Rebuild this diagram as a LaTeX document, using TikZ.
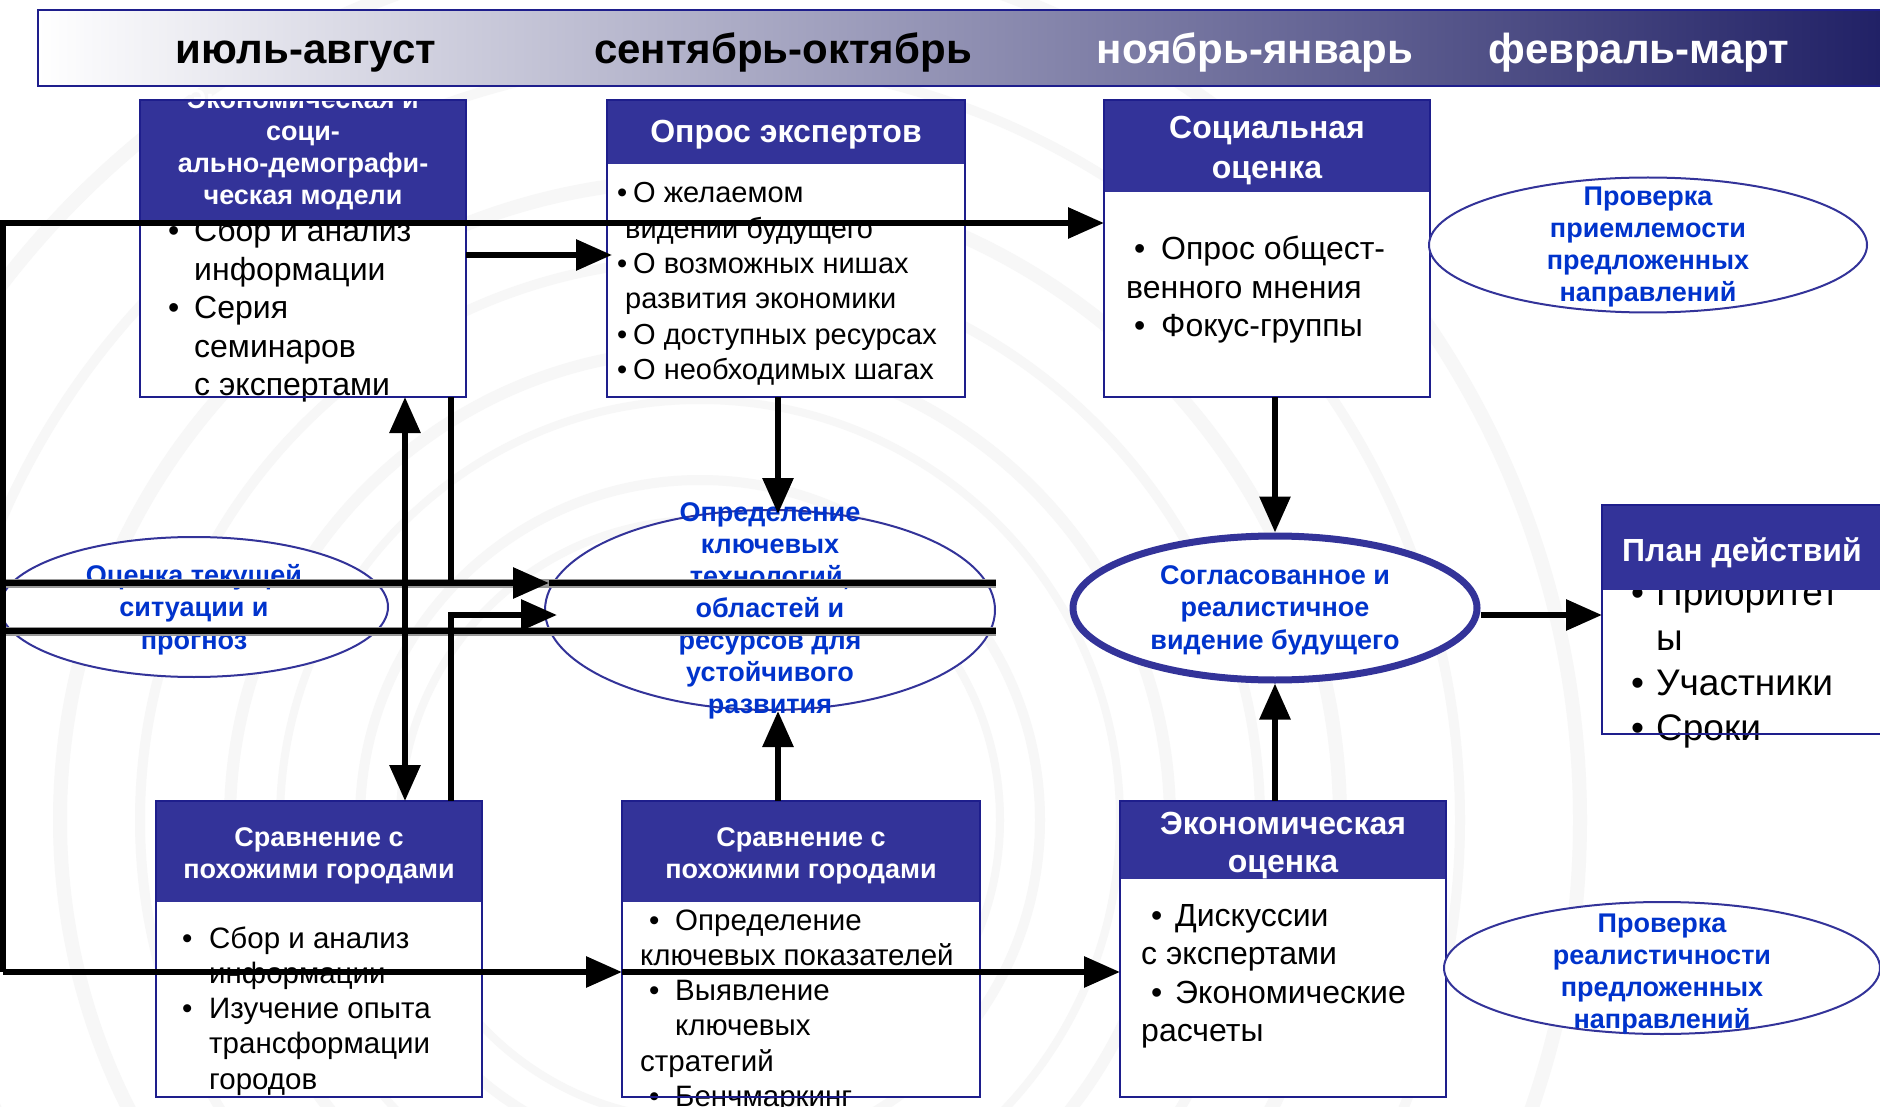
\documentclass[tikz,border=0pt]{standalone}
\usepackage{fontspec}
\setmainfont{Liberation Sans}
\usetikzlibrary{arrows.meta,shapes.geometric}
\definecolor{hdr}{RGB}{51,51,153}
\definecolor{bord}{RGB}{30,30,140}
\definecolor{ellblue}{RGB}{0,51,204}
\definecolor{bandR}{RGB}{33,33,102}
\newcommand{\fs}[2]{\fontsize{#1pt}{#2pt}\selectfont}
\newcommand{\mytab}[2]{\begin{tabular}[t]{@{}#1@{}}#2\end{tabular}}
\newcommand{\bu}[1][26pt]{\makebox[#1][l]{\textbullet}}
\tikzset{
 conn/.style={line width=6pt, black},
 halo/.style={line width=9pt, black!40},
 arr/.style={-{Triangle[length=36pt,width=30pt]}},
 darr/.style={{Triangle[length=36pt,width=30pt]}-{Triangle[length=36pt,width=30pt]}},
 boxfill/.style={rectangle, fill=white, inner sep=0pt, outer sep=0pt},
 boxline/.style={draw=bord, line width=2pt},
 bodytxt/.style={anchor=base west, inner sep=0pt, text=black},
 hdrtxt/.style={anchor=base, inner sep=0pt, text=white, font=\bfseries},
 elltxt/.style={anchor=base, inner sep=0pt, text=ellblue, font=\bfseries},
 ellshape/.style={ellipse, draw=hdr, line width=2pt, fill=white, inner sep=0pt},
 bandtxt/.style={anchor=base, inner sep=0pt, font=\bfseries\fs{42}{50}},
 swirl/.style={draw=black!3},
}
\begin{document}
\begin{tikzpicture}[x=1pt,y=-1pt]
\useasboundingbox (0,0) rectangle (1880,1107);
\fill[white] (0,0) rectangle (1880,1107);
% faint background rings
\foreach \r/\w in {300/8,340/10,420/8,470/12,560/10,640/14,760/10,880/14}
  \draw[swirl, line width=\w pt] (700,820) circle (\r pt);
% time band
\shade[left color=white, right color=bandR] (38,10) rectangle (1880,86);
\draw[bord, line width=2.5pt] (1882,10) -- (38,10) -- (38,86) -- (1882,86);
\node[bandtxt, text=black] (m1) at (306,64) {июль-август};
\node[bandtxt, text=black] (m2) at (783,64) {сентябрь-октябрь};
\node[bandtxt, text=white] (m3) at (1255,64) {ноябрь-январь};
\node[bandtxt, text=white] (m4) at (1639,64) {февраль-март};

% box 1
\node[boxfill, minimum width=326pt, minimum height=297pt] (b1) at (303,248.5) {};
\node[bodytxt] (b1t) at (168,242) {\fs{32}{38.5}\mytab{l}{\bu[26pt]Сбор и анализ\\\hspace{26pt}информации\\\bu[26pt]Серия\\\hspace{26pt}семинаров\\\hspace{26pt}с экспертами}};
\fill[hdr] (140,100) rectangle (466,223);
\node[hdrtxt] (b1h) at (303,109) {\fs{27}{32}\mytab{c}{Экономическая и\\соци-\\ально-демографи-\\ческая модели}};
\draw[boxline] (b1.north west) rectangle (b1.south east);

% box 2
\node[boxfill, minimum width=358pt, minimum height=297pt] (b2) at (786,248.5) {};
\node[bodytxt] (b2t) at (617,203) {\fs{29}{35.3}\mytab{l}{\bu[16pt]О желаемом\\\hspace{8pt}видении будущего\\\bu[16pt]О возможных нишах\\\hspace{8pt}развития экономики\\\bu[16pt]О доступных ресурсах\\\bu[16pt]О необходимых шагах}};
\fill[hdr] (607,100) rectangle (965,164);
\node[hdrtxt] (b2h) at (786,143) {\fs{32}{38}Опрос экспертов};
\draw[boxline] (b2.north west) rectangle (b2.south east);

% box 3
\node[boxfill, minimum width=326pt, minimum height=297pt] (b3) at (1267,248.5) {};
\node[bodytxt] (b3t) at (1126,260) {\fs{32}{38.5}\mytab{l}{\hspace{8pt}\bu[27pt]Опрос общест-\\венного мнения\\\hspace{8pt}\bu[27pt]Фокус-группы}};
\fill[hdr] (1104,100) rectangle (1430,192);
\node[hdrtxt] (b3h) at (1267,139) {\fs{32}{40}\mytab{c}{Социальная\\оценка}};
\draw[boxline] (b3.north west) rectangle (b3.south east);

% box 5
\node[boxfill, minimum width=326pt, minimum height=296pt] (b5) at (319,949) {};
\node[bodytxt] (b5t) at (182,948) {\fs{29.5}{35.3}\mytab{l}{\bu[27pt]Сбор и анализ\\\hspace{27pt}информации\\\bu[27pt]Изучение опыта\\\hspace{27pt}трансформации\\\hspace{27pt}городов}};
\fill[hdr] (156,801) rectangle (482,902);
\node[hdrtxt] (b5h) at (319,846) {\fs{27}{32}\mytab{c}{Сравнение с\\похожими городами}};
\draw[boxline] (b5.north west) rectangle (b5.south east);

% box 6
\node[boxfill, minimum width=358pt, minimum height=296pt] (b6) at (801,949) {};
\node[bodytxt] (b6t) at (640,930) {\fs{29.5}{35.3}\mytab{l}{\hspace{9pt}\bu[26pt]Определение\\ключевых показателей\\\hspace{9pt}\bu[26pt]Выявление\\\hspace{35pt}ключевых\\стратегий\\\hspace{9pt}\bu[26pt]Бенчмаркинг}};
\fill[hdr] (622,801) rectangle (980,902);
\node[hdrtxt] (b6h) at (801,846) {\fs{27}{32}\mytab{c}{Сравнение с\\похожими городами}};
\draw[boxline] (b6.north west) rectangle (b6.south east);

% box 7
\node[boxfill, minimum width=326pt, minimum height=296pt] (b7) at (1283,949) {};
\node[bodytxt] (b7t) at (1141,926) {\fs{32}{38.5}\mytab{l}{\hspace{10pt}\bu[24pt]Дискуссии\\с экспертами\\\hspace{10pt}\bu[24pt]Экономические\\расчеты}};
\fill[hdr] (1120,801) rectangle (1446,879);
\node[hdrtxt] (b7h) at (1283,834) {\fs{32}{38}\mytab{c}{Экономическая\\оценка}};
\draw[boxline] (b7.north west) rectangle (b7.south east);

% plan box
\node[boxfill, minimum width=290pt, minimum height=229pt] (bP) at (1747,619.5) {};
\node[bodytxt] (bPt) at (1631,605) {\fs{37}{45}\mytab{l}{\bu[25pt]Приоритет\\\hspace{25pt}ы\\\bu[25pt]Участники\\\bu[25pt]Сроки}};
\fill[hdr] (1602,505) rectangle (1880,590);
\node[hdrtxt, anchor=base west] (bPh) at (1622,561) {\fs{32}{36}План действий};
\draw[boxline] (bP.north west) rectangle (bP.south east);

% ellipses
\node[ellshape, minimum width=438pt, minimum height=135pt] (eA) at (1648,245) {};
\node[elltxt] (eAt) at (1648,206) {\fs{27}{32}\mytab{c}{Проверка\\приемлемости\\предложенных\\направлений}};
\node[ellshape, minimum width=388pt, minimum height=140pt] (eB) at (194,607) {};
\node[elltxt] (eBt) at (194,584) {\fs{27}{32.5}\mytab{c}{Оценка текущей\\ситуации и\\прогноз}};
\node[ellshape, minimum width=450pt, minimum height=200pt] (eC) at (770,610) {};
\node[elltxt] (eCt) at (770,521) {\fs{27}{32}\mytab{c}{Определение\\ключевых\\технологий,\\областей и\\ресурсов для\\устойчивого\\развития}};
\node[ellshape, line width=7pt, minimum width=404pt, minimum height=144pt] (eD) at (1275,608) {};
\node[elltxt] (eDt) at (1275,584) {\fs{27}{32.5}\mytab{c}{Согласованное и\\реалистичное\\видение будущего}};
\node[ellshape, minimum width=436pt, minimum height=132pt] (eE) at (1662,968) {};
\node[elltxt] (eEt) at (1662,932) {\fs{27}{32}\mytab{c}{Проверка\\реалистичности\\предложенных\\направлений}};

% connectors
\coordinate (cTL) at (3,223);
\coordinate (cBL) at (3,972);
\coordinate (c2) at (0,255);
\coordinate (c3) at (778,0);
\coordinate (c5) at (1275,0);
\coordinate (c7) at (0,615);
\coordinate (c8) at (405,0);
\coordinate (c9) at (451,0);
\coordinate (hU) at (0,583);
\coordinate (hM) at (0,615);
\coordinate (hL) at (0,631);
\draw[halo] (hU) -- (hU -| eC.east);
\draw[halo] (hL) -- (hL -| eC.east);
\draw[conn, arr, line join=miter] (cBL) -- (cTL) -- (cTL -| b3.west);
\draw[conn, arr] (cBL) -- (cBL -| b6.west);
\draw[conn, arr] (cBL -| b6.west) -- (cBL -| b7.west);
\draw[conn, arr] (c2 -| b1.east) -- ([xshift=5pt]c2 -| b2.west);
\draw[conn, arr] (c3 |- b2.south) -- ([yshift=-5pt]c3 |- eC.north);
\draw[conn, arr] (c3 |- b6.north) -- (c3 |- eC.south);
\draw[conn, arr] (c5 |- b3.south) -- (eD.north);
\draw[conn, arr] (c5 |- b7.north) -- (eD.south);
\draw[conn, arr] (c7 -| eD.east) -- (c7 -| bP.west);
\draw[conn, darr] (c8 |- b1.south) -- (c8 |- b5.north);
\draw[conn] (c9 |- b1.south) -- (c9 |- hU);
\draw[conn, arr] (hU) -- ([xshift=5pt]hU -| eC.west);
\draw[conn] ([xshift=5pt]hU -| eC.west) -- (hU -| eC.east);
\draw[conn, arr, line join=miter] (c9 |- b5.north) -- (c9 |- hM) -- ([xshift=13pt]hM -| eC.west);
\draw[conn] (hL) -- (hL -| eC.east);
\end{tikzpicture}
\end{document}
